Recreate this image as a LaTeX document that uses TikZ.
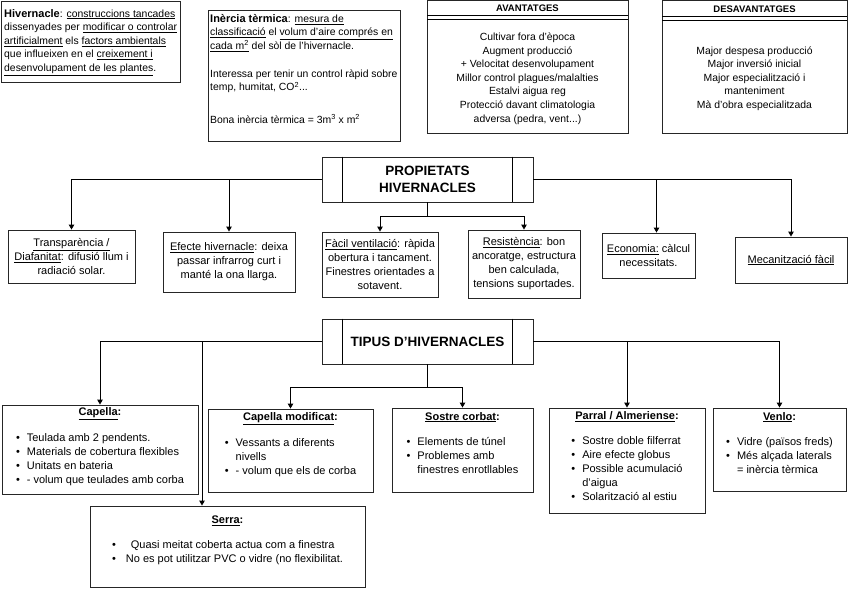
\documentclass[tikz,border=0pt]{standalone}
\usepackage{fontspec}
\setmainfont{Liberation Sans}
\usetikzlibrary{arrows.meta}
\begin{document}
\begin{tikzpicture}[x=1pt,y=-1pt,
  box/.style={draw=black!85, line width=0.9pt, inner sep=0pt, align=center},
  txt/.style={inner sep=0pt, font=\fontsize{11}{14}\selectfont, align=center},
  toptxt/.style={inner sep=0pt, font=\fontsize{10.4}{13.6}\selectfont},
  ln/.style={line width=0.9pt},
  arr/.style={line width=0.9pt, -{Triangle[length=5pt,width=5.5pt]}},
  titlebox/.style={draw=black!85, line width=0.9pt, minimum width=211pt, minimum height=45pt, inner sep=0pt,
     font=\bfseries\fontsize{13.5}{17}\selectfont, align=center},
  hdr/.style={inner sep=0pt, font=\bfseries\fontsize{9.5}{11}\selectfont}
]
\useasboundingbox (0,0) rectangle (848,590);

% ---------- top row ----------
\node[box, minimum width=179pt, minimum height=81pt] (hiv) at (90.5,42) {};
\node[toptxt, anchor=north west, align=left] (hivt) at (4,9)
 {{\fontsize{11}{13.6}\selectfont\textbf{Hivernacle}}: \underline{construccions tancades}\\
  dissenyades per \underline{modificar o controlar}\\
  \underline{artificialment} els \underline{factors ambientals}\\
  que influeixen en el \underline{creixement i}\\
  \underline{desenvolupament de les plantes}.};

\node[box, minimum width=192pt, minimum height=131pt] (ine) at (304,76) {};
\node[toptxt, anchor=north west, align=left] (inet) at (210,14)
 {{\fontsize{11}{13.6}\selectfont\textbf{Inèrcia tèrmica}}: \underline{mesura de}\\
  \underline{classificació} el \underline{volum d'aire comprés en}\\
  \underline{cada m\textsuperscript{2}} del sòl de l'hivernacle.\\[14pt]
  Interessa per tenir un control ràpid sobre\\
  temp, humitat, CO\textsuperscript{2}...\\[19pt]
  Bona inèrcia tèrmica = 3m\textsuperscript{3} x m\textsuperscript{2}};

\node[box, minimum width=201pt, minimum height=133pt] (av) at (527.5,67) {};
\draw[ln] (427,15.5) -- (628,15.5);
\draw[ln] (427,19.5) -- (628,19.5);
\node[hdr] (avh) at (527.5,8.5) {AVANTATGES};
\node[toptxt, align=center] (avb) at (527.5,78.5)
 {Cultivar fora d'època\\ Augment producció\\ + Velocitat desenvolupament\\
  Millor control plagues/malalties\\ Estalvi aigua reg\\ Protecció davant climatologia\\
  adversa (pedra, vent...)};

\node[box, minimum width=185pt, minimum height=133pt] (des) at (754.5,67) {};
\draw[ln] (662,16) -- (847,16);
\draw[ln] (662,20) -- (847,20);
\node[hdr] (desh) at (754.5,9) {DESAVANTATGES};
\node[toptxt, align=center] (desb) at (754.5,78.5)
 {Major despesa producció\\ Major inversió inicial\\ Major especialització i\\
  manteniment\\ Mà d'obra especialitzada};

% ---------- PROPIETATS ----------
\node[titlebox] (prop) at (427.5,179.5) {PROPIETATS\\HIVERNACLES};
\draw[ln] ([xshift=21pt]prop.north west) -- ([xshift=21pt]prop.south west);
\draw[ln] ([xshift=-21pt]prop.north east) -- ([xshift=-21pt]prop.south east);

\node[box, txt, minimum width=127pt, minimum height=53pt] (transp) at (71.5,256.5)
 {\underline{Transparència /}\\ \underline{Diafanitat}: difusió llum i\\ radiació solar.};
\node[box, txt, minimum width=132pt, minimum height=60pt] (efec) at (229,262)
 {\underline{Efecte hivernacle}: deixa\\ passar infrarrog curt i\\ manté la ona llarga.};
\node[box, txt, minimum width=116pt, minimum height=65pt] (fac) at (380,264.5)
 {\underline{Fàcil ventilació}: ràpida\\ obertura i tancament.\\ Finestres orientades a\\ sotavent.};
\node[box, txt, minimum width=112pt, minimum height=68pt] (res) at (524,264)
 {\underline{Resistència}: bon\\ ancoratge, estructura\\ ben calculada,\\ tensions suportades.};
\node[box, txt, minimum width=93pt, minimum height=45pt] (eco) at (648.5,255.5)
 {\underline{Economia:} càlcul\\ necessitats.};
\node[box, txt, minimum width=112pt, minimum height=46pt] (mec) at (791,260)
 {\underline{Mecanització fàcil}};

\draw[arr] (prop.west) -| (transp.north);
\draw[arr] (efec.north |- prop.west) -- (efec.north);
\draw[ln] (prop.south) -- ++(0,14) coordinate (pm);
\draw[arr] (pm) -| (fac.north);
\draw[arr] (pm) -| (res.north);
\draw[arr] (prop.east) -| (mec.north);
\coordinate (ecoin) at ([xshift=8pt]eco.north);
\draw[arr] (ecoin |- prop.east) -- (ecoin);

% ---------- TIPUS ----------
\node[titlebox] (tip) at (427.5,341.5) {TIPUS D'HIVERNACLES};
\draw[ln] ([xshift=21pt]tip.north west) -- ([xshift=21pt]tip.south west);
\draw[ln] ([xshift=-21pt]tip.north east) -- ([xshift=-21pt]tip.south east);

\node[box, minimum width=196pt, minimum height=89pt] (cap) at (100,449.5) {};
\node[txt, anchor=north] (capt) at (100,407)
 {\textbf{\underline{Capella}:}\\[11pt]
  \begin{tabular}[t]{@{}l@{\hspace{7pt}}l@{}}
  \textbullet & Teulada amb 2 pendents.\\
  \textbullet & Materials de cobertura flexibles\\
  \textbullet & Unitats en bateria\\
  \textbullet & - volum que teulades amb corba
  \end{tabular}};

\node[box, minimum width=165pt, minimum height=83pt] (capm) at (290.5,450.5) {};
\node[txt, anchor=north] (capmt) at (290.5,412)
 {\textbf{\underline{Capella modificat}:}\\[11pt]
  \begin{tabular}[t]{@{}l@{\hspace{7pt}}l@{}}
  \textbullet & Vessants a diferents\\
   & nivells\\
  \textbullet & - volum que els de corba
  \end{tabular}};

\node[box, minimum width=141pt, minimum height=84pt] (sos) at (462.5,450) {};
\node[txt, anchor=north] (sost) at (462.5,412)
 {\textbf{\underline{Sostre corbat}:}\\[11pt]
  \begin{tabular}[t]{@{}l@{\hspace{7pt}}l@{}}
  \textbullet & Elements de túnel\\
  \textbullet & Problemes amb\\
   & finestres enrotllables
  \end{tabular}};

\node[box, minimum width=156pt, minimum height=105pt] (par) at (627,460.5) {};
\node[txt, anchor=north] (part) at (627,411)
 {\textbf{\underline{Parral / Almeriense}:}\\[11pt]
  \begin{tabular}[t]{@{}l@{\hspace{7pt}}l@{}}
  \textbullet & Sostre doble filferrat\\
  \textbullet & Aire efecte globus\\
  \textbullet & Possible acumulació\\
   & d'aigua\\
  \textbullet & Solarització al estiu
  \end{tabular}};

\node[box, minimum width=133pt, minimum height=83pt] (ven) at (779.5,449.5) {};
\node[txt, anchor=north] (vent) at (779.5,412)
 {\textbf{\underline{Venlo}:}\\[11pt]
  \begin{tabular}[t]{@{}l@{\hspace{7pt}}l@{}}
  \textbullet & Vidre (països freds)\\
  \textbullet & Més alçada laterals\\
   & = inèrcia tèrmica
  \end{tabular}};

\node[box, minimum width=275pt, minimum height=81pt] (ser) at (227.5,546.5) {};
\node[txt, anchor=north] (sert) at (227.5,516)
 {\textbf{\underline{Serra}:}\\[11pt]
  \begin{tabular}[t]{@{}l@{\hspace{10pt}}l@{}}
  \textbullet & \hspace{5pt}Quasi meitat coberta actua com a finestra\\
  \textbullet & No es pot utilitzar PVC o vidre (no flexibilitat.
  \end{tabular}};

\draw[arr] (tip.west) -| (cap.north);
\coordinate (serin) at (202,0);
\draw[arr] (serin |- tip.west) -- (serin |- ser.north);
\draw[ln] (tip.south) -- ++(0,23) coordinate (tm);
\draw[arr] (tm) -| (capm.north);
\draw[arr] (tm) -| (sos.north);
\draw[arr] (tip.east) -| (ven.north);
\draw[arr] (par.north |- tip.east) -- (par.north);
\end{tikzpicture}
\end{document}
